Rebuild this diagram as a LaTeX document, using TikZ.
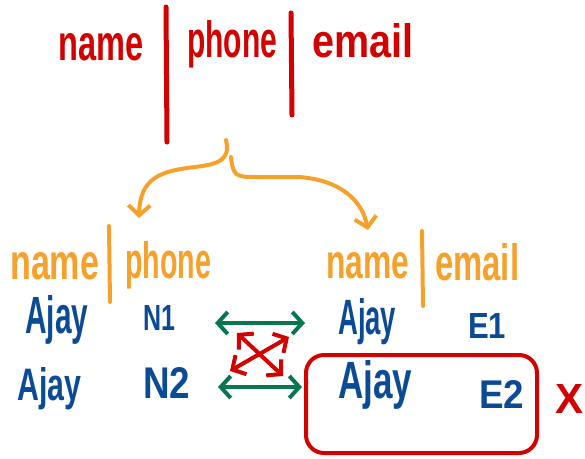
\documentclass[tikz,border=0pt]{standalone}
\usepackage{fontspec}
\setmainfont{Liberation Sans}
\usetikzlibrary{arrows.meta}
\definecolor{inkred}{HTML}{D30000}
\definecolor{inkorange}{HTML}{F5A12B}
\definecolor{inkblue}{HTML}{0B4A94}
\definecolor{inkgreen}{HTML}{087650}
% a word squeezed to a given width and height (pt) above its baseline
\newcommand\hw[3]{\resizebox{#1pt}{#2pt}{\bfseries #3}}
\tikzset{barb/.tip={Straight Barb[length=10pt,width=22pt]}}
\begin{document}
\begin{tikzpicture}[x=1pt,y=-1pt,
  word/.style={anchor=base west, inner sep=0pt},
  pen/.style={line width=#1, line cap=round, line join=round}]
\useasboundingbox (0,0) rectangle (585,458);

% full relation header
\node[word, text=inkred] (hname)  at (58,60)  {\hw{85}{27}{name}};
\node[word, text=inkred] (hphone) at (187,57) {\hw{90}{37}{phone}};
\node[word, text=inkred] (hemail) at (312,57) {\hw{101}{34}{email}};
\draw[pen=5pt, inkred] (166,7) -- (167,142);
\draw[pen=5pt, inkred] (291,13) -- (292,115);

% split brace
\coordinate (braceL) at (226,140);
\coordinate (braceR) at (231,157);
\coordinate (tipL) at (139,218);
\coordinate (tipR) at (368,230);
\draw[pen=4pt, inkorange, -barb] (braceL) .. controls (230,158) and (222,164) .. (195,167)
  .. controls (160,171) and (140,178) .. (tipL);
\draw[pen=4pt, inkorange, -barb] (braceR) .. controls (233,176) and (236,177) .. (255,177)
  -- (299,177) .. controls (340,180) and (362,200) .. (tipR);

% projected relations
\node[word, text=inkorange] (lname)  at (10,279)  {\hw{89}{27}{name}};
\node[word, text=inkorange] (lphone) at (125,278) {\hw{86}{37}{phone}};
\node[word, text=inkorange] (rname)  at (326,278) {\hw{83}{26}{name}};
\node[word, text=inkorange] (remail) at (435,280) {\hw{84}{37}{email}};
\draw[pen=4pt, inkorange] (109,226) -- (110,302);
\draw[pen=4pt, inkorange] (422,231) -- (423,306);

% rows
\node[word, text=inkblue] (a1)  at (25,333)  {\hw{63}{38}{Ajay}};
\node[word, text=inkblue] (n1)  at (143,330) {\hw{32}{25}{N1}};
\node[word, text=inkblue] (a1r) at (338,334) {\hw{58}{36}{Ajay}};
\node[word, text=inkblue] (e1)  at (468,338) {\hw{38}{25}{E1}};
\node[word, text=inkblue] (a2)  at (17,400)  {\hw{64}{33}{Ajay}};
\node[word, text=inkblue] (n2)  at (143,398) {\hw{47}{31}{N2}};
\node[word, text=inkblue] (a2r) at (338,398) {\hw{74}{38}{Ajay}};
\node[word, text=inkblue] (e2)  at (479,408) {\hw{45}{28}{E2}};

% joins
\coordinate (g1a) at (215,323); \coordinate (g1b) at (305,323);
\coordinate (g2a) at (218,387); \coordinate (g2b) at (302,387);
\coordinate (c1a) at (237,333); \coordinate (c1b) at (283,376);
\coordinate (c2a) at (289,337); \coordinate (c2b) at (230,371);
\draw[pen=4pt, inkgreen, barb-barb] (g1a) -- (g1b);
\draw[pen=4pt, inkgreen, barb-barb] (g2a) -- (g2b);
\draw[pen=4pt, inkred, barb-barb] (c1a) -- (c1b);
\draw[pen=4pt, inkred, barb-barb] (c2a) -- (c2b);

% spurious tuple
\node[draw=inkred, line width=4pt, rounded corners=18pt,
  minimum width=231pt, minimum height=98pt] (spur) at (421.5,404) {};
\node[word, text=inkred] (cross) at (555,413) {\hw{28}{29}{X}};
\end{tikzpicture}
\end{document}
